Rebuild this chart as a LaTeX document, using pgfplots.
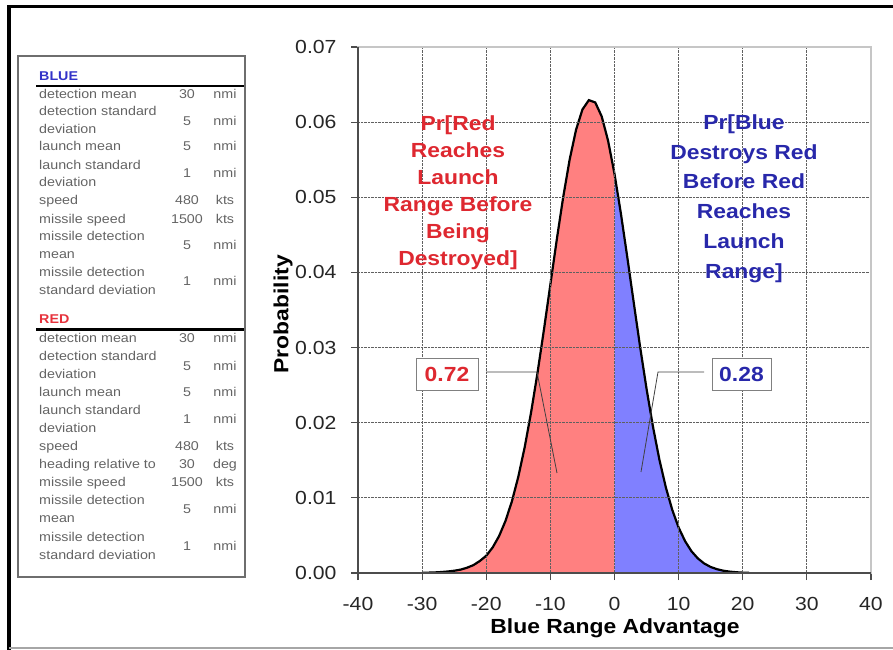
\documentclass[border=0pt]{standalone}
\usepackage{fontspec}
\setmainfont{Liberation Sans}[FakeStretch=1.12]
\usepackage{pgfplots}
\pgfplotsset{compat=1.18}
\usepackage{pgfplotstable}

\definecolor{redfill}{RGB}{255,128,128}
\definecolor{bluefill}{RGB}{128,128,255}
\definecolor{redtxt}{RGB}{222,40,48}
\definecolor{bluetxt}{RGB}{40,40,170}
\definecolor{tbltxt}{RGB}{100,100,100}
\definecolor{tblframe}{RGB}{110,110,110}
\definecolor{bluehdr}{RGB}{50,50,200}
\definecolor{redhdr}{RGB}{230,50,60}

% probability density of blue range advantage
\pgfplotstableread{
x    y
-30  0.00002
-28  0.00008
-27  0.00013
-26  0.00020
-25  0.00030
-24  0.00045
-23  0.00070
-22  0.00105
-21  0.00160
-20  0.00230
-19  0.00340
-18  0.00491
-17  0.00693
-16  0.00954
-15  0.01281
-14  0.01676
-13  0.02141
-12  0.02667
-11  0.03240
-10  0.03839
-9   0.04438
-8   0.05002
-7   0.05499
-6   0.05897
-5   0.06168
-4   0.06293
-3   0.06262
-2   0.06077
-1   0.05752
0    0.05311
1    0.04782
2    0.04200
3    0.03598
4    0.03006
5    0.02450
6    0.01947
7    0.01509
8    0.01142
9    0.00842
10   0.00605
11   0.00425
12   0.00290
13   0.00194
14   0.00126
15   0.00080
16   0.00050
17   0.00030
18   0.00018
19   0.00010
20   0.00005
21   0.00002
}\curve

\tikzset{
  tl/.style={anchor=mid west, inner sep=0pt, text=tbltxt, font=\fontsize{12.8}{14}\selectfont},
  tv/.style={anchor=mid, inner sep=0pt, text=tbltxt, font=\fontsize{12.8}{14}\selectfont},
  hdr/.style={anchor=mid west, inner sep=0pt, font=\bfseries\fontsize{12.8}{14}\selectfont},
  callout/.style={draw=gray, fill=white, line width=0.9bp, minimum height=32bp, inner sep=0pt,
        font=\bfseries\fontsize{20.5}{24}\selectfont},
}

\begin{document}
\begin{tikzpicture}
\path[use as bounding box] (0,0) rectangle (893bp,650bp);

\begin{axis}[
    at={(358bp,77bp)}, anchor=south west,
    scale only axis, width=513bp, height=526bp,
    xmin=-40, xmax=40, ymin=0, ymax=0.07,
    xtick={-40,-30,-20,-10,0,10,20,30,40},
    ytick={0,0.01,0.02,0.03,0.04,0.05,0.06,0.07},
    scaled y ticks=false,
    yticklabel style={xshift=-11bp,/pgf/number format/fixed,/pgf/number format/fixed zerofill,/pgf/number format/precision=2},
    xticklabel style={yshift=-14bp},
    /pgf/number format/assume math mode=true,
    tick label style={font=\fontsize{19}{22}\selectfont, color=black!85},
    tick pos=left, tick align=outside, major tick length=7bp,
    major tick style={line width=1.1bp, color=gray!60!black},
    axis line style={draw=gray!45, line width=1.1bp},
    grid=major, grid style={densely dotted, gray!75!black, line width=0.9bp},
    axis on top,
    xlabel={Blue Range Advantage},
    ylabel={Probability},
    label style={font=\bfseries\fontsize{20.5}{24}\selectfont},
    xlabel style={at={(axis description cs:0.501,-0.106)}, anchor=center},
    ylabel style={at={(axis description cs:-0.146,0.492)}, anchor=center},
]
\addplot[fill=redfill, draw=none, restrict x to domain=-30:0] table {\curve} \closedcycle;
\addplot[fill=bluefill, draw=none, restrict x to domain=0:22] table {\curve} \closedcycle;
\addplot[black, line width=2.2bp] table {\curve};
\end{axis}

\begin{scope}[x=1bp,y=-1bp,shift={(0bp,650bp)}]
  % darker left and bottom axis lines
  \draw[gray!60!black, line width=1.3bp] (358,47) -- (358,573) -- (871,573);
  % callouts
  \draw[black!75, line width=0.8bp] (486,372) -- (537,372) -- (557,473);
  \draw[black!75, line width=0.8bp] (704,372) -- (658,372) -- (641,472);
  \node[callout, minimum width=62bp, text=redtxt] at (447,374) {0.72};
  \node[callout, minimum width=59bp, text=bluetxt] at (741.5,374) {0.28};
  \node[align=center, text=redtxt, font=\bfseries\fontsize{20.5}{27.2}\selectfont]
        at (458,192.6) {Pr[Red\\Reaches\\Launch\\Range Before\\Being\\Destroyed]};
  \node[align=center, text=bluetxt, font=\bfseries\fontsize{20.5}{30}\selectfont]
        at (744,198.7) {Pr[Blue\\Destroys Red\\Before Red\\Reaches\\Launch\\Range]};
  % outer frame
  \draw[black, line width=4bp] (9,650) -- (9,5);
  \draw[black, line width=3bp] (7,6.5) -- (893,6.5);
  \draw[gray!70, line width=2bp] (9,648) -- (893,648);
  % parameter table
  \draw[tblframe, line width=1.8bp] (18,56) rectangle (245,577);
  \draw[black, line width=2.4bp] (36,86) -- (244,86);
  \draw[black, line width=2.4bp] (36,329.5) -- (244,329.5);
  \node[hdr, text=bluehdr] at (39,77.5) {BLUE};
  \node[hdr, text=redhdr] at (39,320.5) {RED};
  \foreach \y/\t in {96/detection mean, 113/detection standard, 131/deviation,
      148/launch mean, 167/launch standard, 184/deviation, 202/speed,
      221/missile speed, 238/missile detection, 256/mean,
      274/missile detection, 292/standard deviation,
      340/detection mean, 358/detection standard, 376/deviation,
      394/launch mean, 412/launch standard, 430/deviation, 448/speed,
      466/heading relative to, 484/missile speed, 502/missile detection,
      520/mean, 539/missile detection, 557/standard deviation}
    \node[tl] at (39,\y) {\t};
  \foreach \y/\v/\u in {96/30/nmi, 123/5/nmi, 148/5/nmi, 175/1/nmi,
      202/480/kts, 221/1500/kts, 247/5/nmi, 283/1/nmi,
      340/30/nmi, 368/5/nmi, 394/5/nmi, 421/1/nmi, 448/480/kts,
      466/30/deg, 484/1500/kts, 511/5/nmi, 548/1/nmi}
    {\node[tv] at (187,\y) {\v};
     \node[tv] at (225,\y) {\u};}
\end{scope}
\end{tikzpicture}
\end{document}
